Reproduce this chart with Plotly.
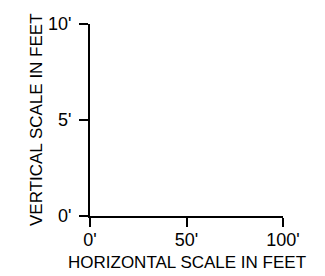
import plotly.graph_objects as go

x_ticks = [0, 50, 100]
x_labels = ["0'", "50'", "100'"]
y_ticks = [0, 5, 10]
y_labels = ["0'", "5'", "10'"]
x_title = "HORIZONTAL SCALE IN FEET"
y_title = "VERTICAL SCALE IN FEET"

FONT = "Liberation Sans, Arial, sans-serif"

fig = go.Figure()
fig.add_trace(go.Scatter(x=[None], y=[None], mode="markers", showlegend=False, hoverinfo="skip"))

axis_common = dict(
    showline=True, linecolor="black", linewidth=2,
    ticks="outside", ticklen=9, tickwidth=2, tickcolor="black",
    showgrid=False, zeroline=False, automargin=False,
    tickfont=dict(family=FONT, size=18, color="black"),
)

# page body has an 8px default margin; size the figure to fill the rest
fig.update_layout(
    width=317, height=268,
    margin=dict(l=82, r=42, t=16, b=60, autoexpand=False),
    paper_bgcolor="white", plot_bgcolor="white",
    xaxis=dict(range=[0, 100], tickvals=x_ticks, ticktext=x_labels,
               ticklabelstandoff=-3, **axis_common),
    yaxis=dict(range=[0, 10], tickvals=y_ticks, ticktext=y_labels,
               ticklabelstandoff=4, **axis_common),
    annotations=[
        dict(text=x_title, xref="x", yref="paper", x=50, y=0, yshift=-46,
             xanchor="center", yanchor="middle", showarrow=False,
             font=dict(family=FONT, size=17, color="black")),
        dict(text=y_title, xref="paper", yref="y", x=0, y=5, xshift=-54,
             xanchor="center", yanchor="middle", showarrow=False, textangle=-90,
             font=dict(family=FONT, size=17, color="black")),
    ],
)

fig.write_html("out.html")
